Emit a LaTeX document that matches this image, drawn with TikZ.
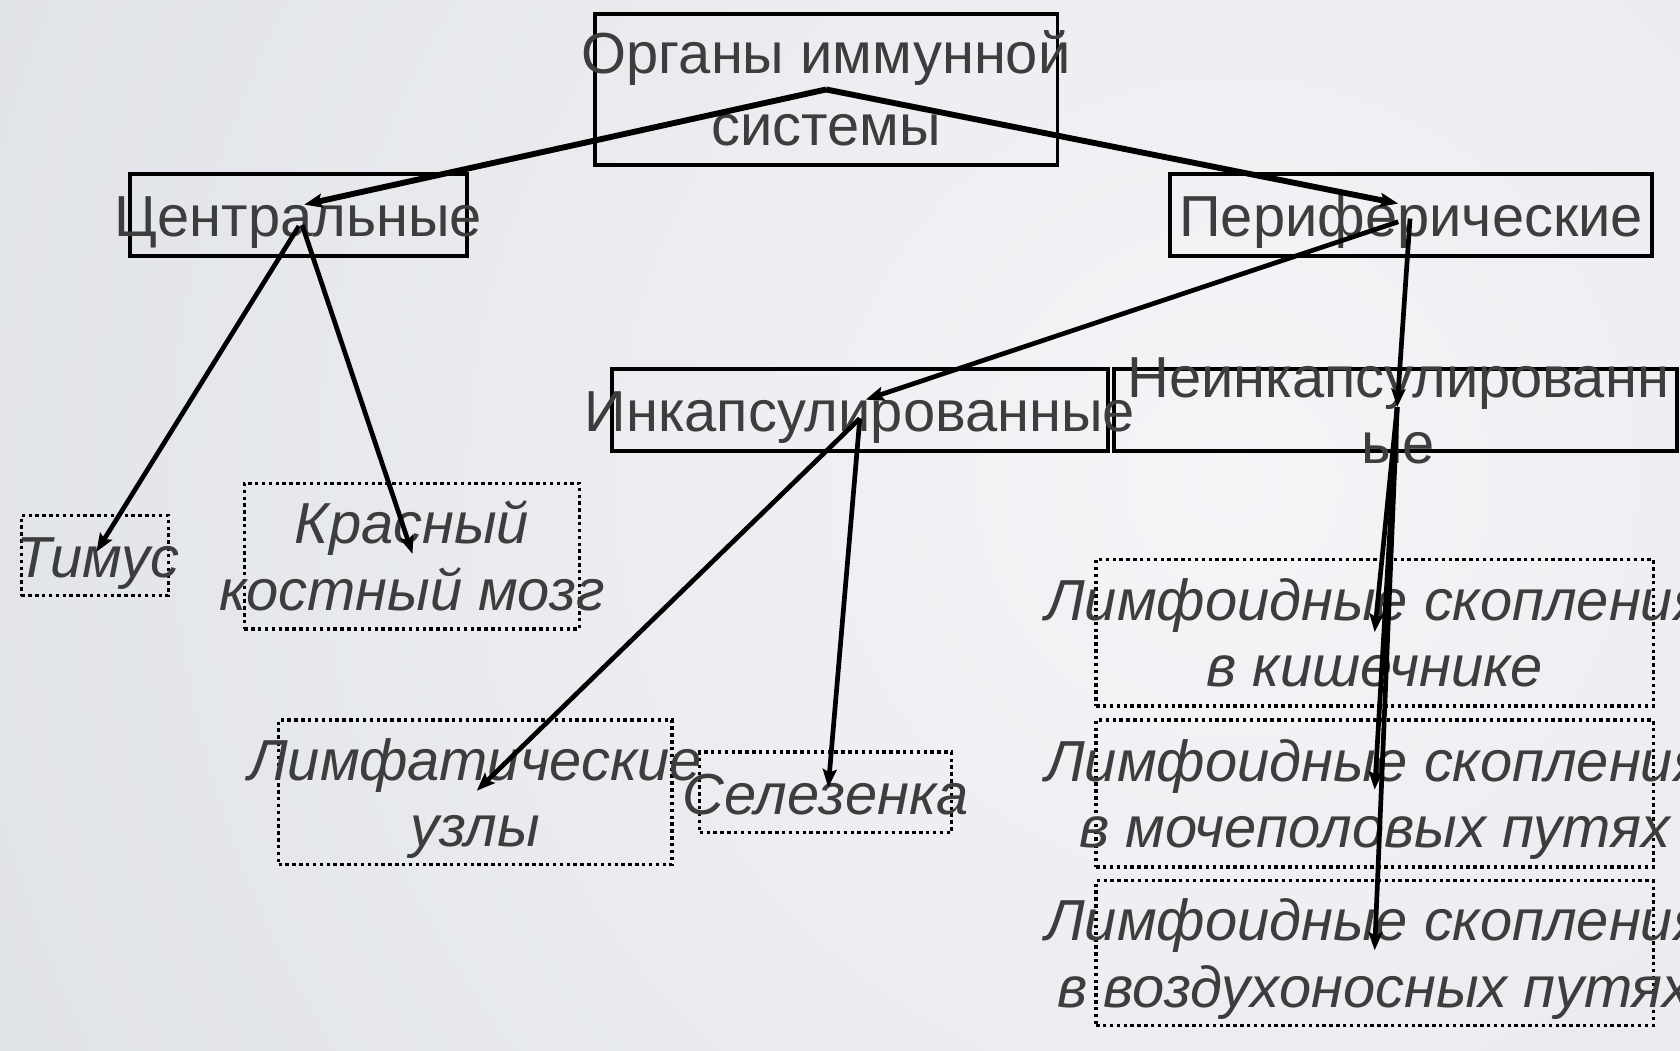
\documentclass[tikz,border=0pt]{standalone}
\usepackage{fontspec}
\setmainfont{Liberation Sans}
\usetikzlibrary{arrows.meta}
\definecolor{txtc}{HTML}{3D3D3D}
\definecolor{bgin}{HTML}{F4F5F7}
\definecolor{bgout}{HTML}{C4C9D3}
\newcommand\lnst{\rule[-0.25em]{0pt}{1em}}
\newcommand\bigfont{\fontsize{54}{62}\selectfont\lineskiplimit=-1000pt\relax}
\newcommand\topfont{\fontsize{54}{67}\selectfont\lineskiplimit=-1000pt\relax}
\tikzset{
  sbox/.style={draw=black, line width=3.6pt, inner sep=0pt},
  dbox/.style={draw=black, line width=3.2pt, dash pattern=on 3.2pt off 3.2pt, inner sep=0pt},
  lbl/.style={text=txtc, inner sep=0pt, align=center, font=\bigfont},
  ilbl/.style={text=txtc, inner sep=0pt, align=center, font=\bigfont\itshape},
  conn/.style={draw=black, line width=4.4pt, -{Stealth[length=17pt,width=13pt,inset=3pt]}},
  conntop/.style={conn, line width=5.5pt}
}
\begin{document}
\begin{tikzpicture}[x=1pt,y=-1pt]
\useasboundingbox (0,0) rectangle (1568,980);
\shade[inner color=bgin, outer color=bgout] (1150,450) circle (3000);

% boxes
\node[sbox, minimum width=432pt, minimum height=141pt] (top) at (771,83.5) {};
\node[sbox, minimum width=315pt, minimum height=77pt] (cen) at (278.5,200.5) {};
\node[sbox, minimum width=450pt, minimum height=77pt] (per) at (1317,200.5) {};
\node[sbox, minimum width=463pt, minimum height=77pt] (enc) at (802.5,382.5) {};
\node[sbox, minimum width=525pt, minimum height=77pt] (nenc) at (1302.5,382.5) {};
\node[dbox, minimum width=137pt, minimum height=75pt] (thy) at (88.5,518.5) {};
\node[dbox, minimum width=313pt, minimum height=136pt] (rbm) at (384.5,519) {};
\node[dbox, minimum width=367pt, minimum height=135pt] (lym) at (443.5,739.5) {};
\node[dbox, minimum width=235pt, minimum height=75pt] (spl) at (770.5,739.5) {};
\node[dbox, minimum width=520pt, minimum height=137pt] (gut) at (1283,590.5) {};
\node[dbox, minimum width=520pt, minimum height=137pt] (uro) at (1283,740.5) {};
\node[dbox, minimum width=520pt, minimum height=135pt] (air) at (1283,889.5) {};

% texts
\node[lbl, font=\topfont] (topT) at ([yshift=-5pt]top.center) {\lnst Органы иммунной\\\lnst системы};
\node[lbl] (cenT) at ([yshift=-7pt]cen.center) {\lnst Центральные};
\node[lbl] (perT) at ([yshift=-7pt]per.center) {\lnst Периферические};
\node[lbl] (encT) at ([yshift=-7pt]enc.center) {\lnst Инкапсулированные};
\node[lbl] (nencT) at ([shift={(2.5,6)}]nenc.center) {\lnst Неинкапсулированн\\\lnst ые};
\node[ilbl] (thyT) at ([shift={(3,7)}]thy.center) {\lnst Тимус};
\node[ilbl] (rbmT) at ([yshift=-6pt]rbm.center) {\lnst Красный\\\lnst костный мозг};
\node[ilbl] (lymT) at ([yshift=-6pt]lym.center) {\lnst Лимфатические\\\lnst узлы};
\node[ilbl] (splT) at ([yshift=-7pt]spl.center) {\lnst Селезенка};
\node[ilbl] (gutT) at ([yshift=-6pt]gut.center) {\lnst Лимфоидные скопления\\\lnst в кишечнике};
\node[ilbl] (uroT) at ([yshift=-6pt]uro.center) {\lnst Лимфоидные скопления\\\lnst в мочеполовых путях};
\node[ilbl] (airT) at ([yshift=-6pt]air.center) {\lnst Лимфоидные скопления\\\lnst в воздухоносных путях};

% connectors
\draw[conntop] (top.center) -- ([shift={(5.5,-9.5)}]cen.center);
\draw[conntop] (top.center) -- ([shift={(-12,-10.5)}]per.center);
\draw[conn] ([shift={(0.5,10.5)}]cen.center) -- ([shift={(1.5,-3.5)}]thy.center);
\draw[conn] ([shift={(3.5,9.5)}]cen.center) -- ([shift={(0.5,-2)}]rbm.center);
\draw[conn] ([shift={(-12,6.5)}]per.center) -- ([shift={(5.5,-9.5)}]enc.center);
\draw[conn] ([shift={(-1,3.5)}]per.center) -- ([shift={(1.5,-2.5)}]nenc.center);
\draw[conn] ([shift={(0,8)}]enc.center) -- ([shift={(1.5,-1.5)}]lym.center);
\draw[conn] ([shift={(0,8)}]enc.center) -- ([shift={(2.5,-4.5)}]spl.center);
\draw[conn] ([shift={(1.5,-2.5)}]nenc.center) -- ([shift={(0,-0.5)}]gut.center);
\draw[conn] ([shift={(1.5,-2.5)}]nenc.center) -- ([shift={(0,-3.5)}]uro.center);
\draw[conn] ([shift={(1.5,-2.5)}]nenc.center) -- ([shift={(0,-2.5)}]air.center);
\end{tikzpicture}
\end{document}
